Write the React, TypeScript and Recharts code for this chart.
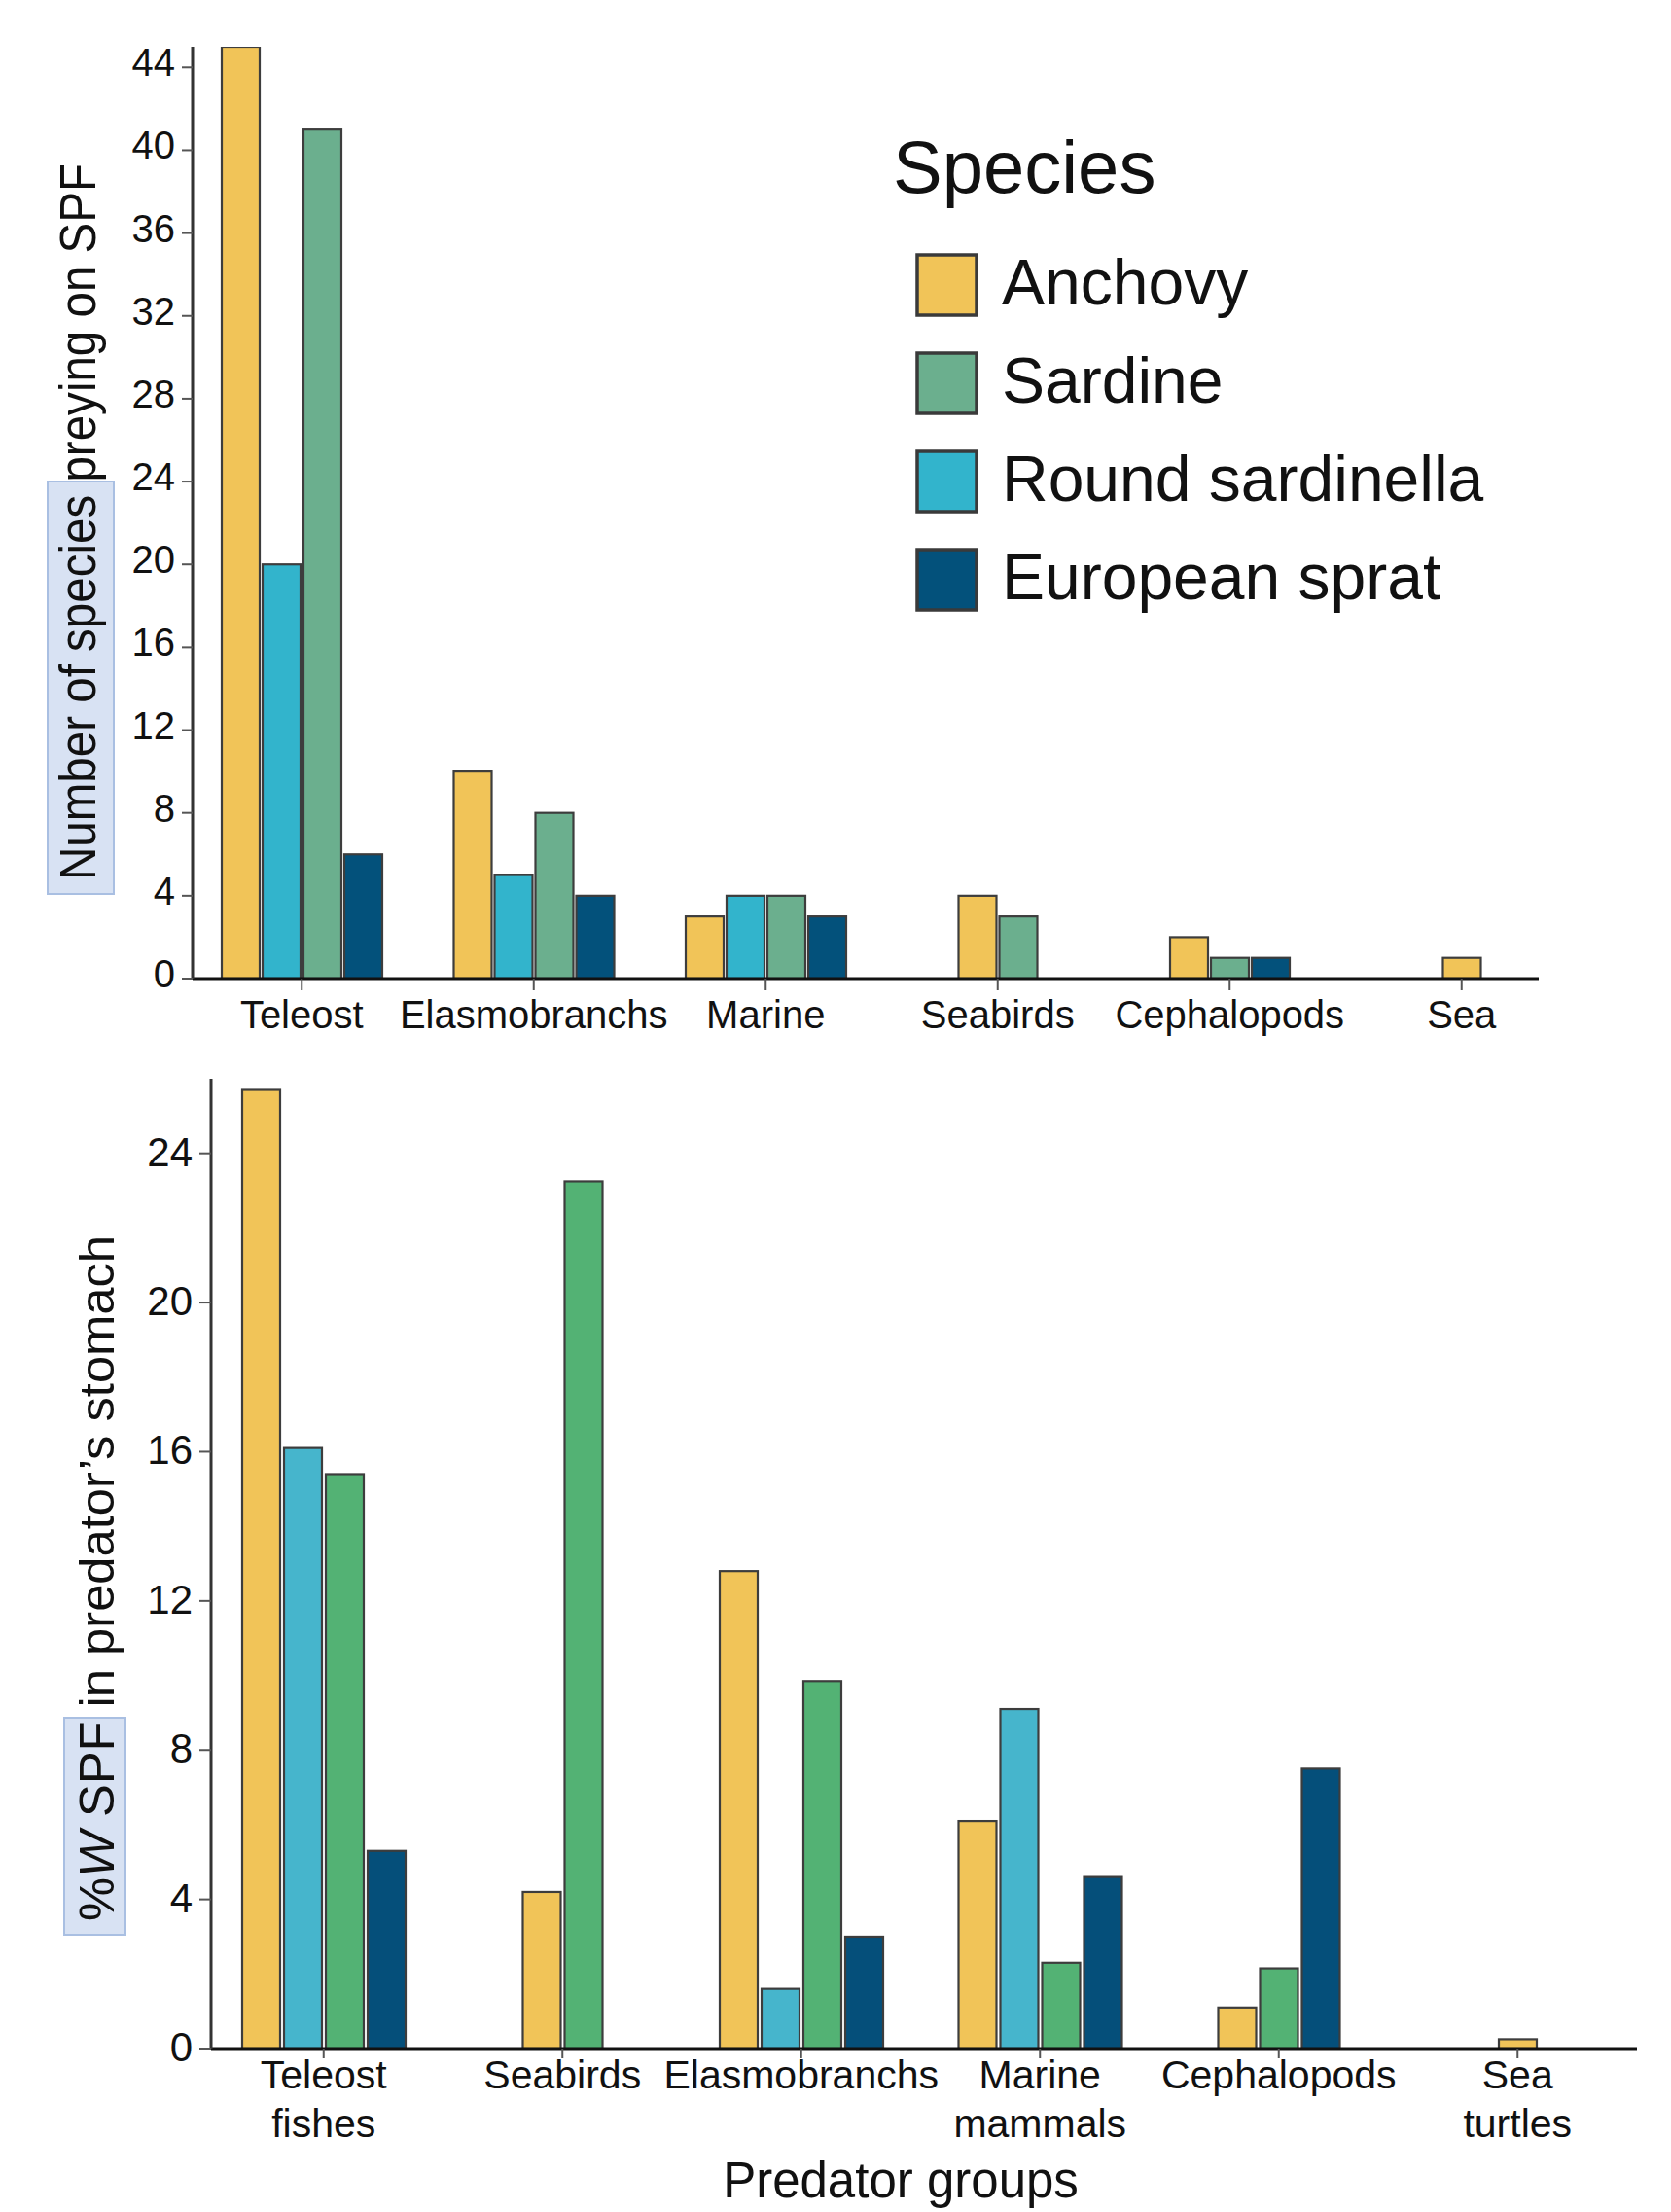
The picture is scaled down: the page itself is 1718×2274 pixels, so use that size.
import React from 'react';
import { BarChart, Bar, XAxis, YAxis, Customized } from 'recharts';

// ---------- data ----------
const SERIES_KEYS = ['anchovy', 'roundSardinella', 'sardine', 'sprat'];
const LEGEND_NAMES = ['Anchovy', 'Sardine', 'Round sardinella', 'European sprat'];
const LEGEND_KEYS = ['anchovy', 'sardine', 'roundSardinella', 'sprat'];

const TOP_CATEGORIES = ['Teleost', 'Elasmobranchs', 'Marine', 'Seabirds', 'Cephalopods', 'Sea'];
const TOP_ANCHOVY = [45, 10, 3, 4, 2, 1];
const TOP_ROUND = [20, 5, 4, null, null, null];
const TOP_SARDINE = [41, 8, 4, 3, 1, null];
const TOP_SPRAT = [6, 4, 3, null, 1, null];
const TOP_TICKS = [0, 4, 8, 12, 16, 20, 24, 28, 32, 36, 40, 44];

const BOTTOM_CATEGORIES = ['Teleost fishes', 'Seabirds', 'Elasmobranchs', 'Marine mammals', 'Cephalopods', 'Sea turtles'];
const BOTTOM_ANCHOVY = [25.7, 4.2, 12.8, 6.1, 1.1, 0.25];
const BOTTOM_ROUND = [16.1, null, 1.6, 9.1, null, null];
const BOTTOM_SARDINE = [15.4, 23.25, 9.85, 2.3, 2.15, null];
const BOTTOM_SPRAT = [5.3, null, 3.0, 4.6, 7.5, null];
const BOTTOM_TICKS = [0, 4, 8, 12, 16, 20, 24];

// ---------- styles ----------
const FONT = 'Liberation Sans, Arial, Helvetica, sans-serif';
const TOP_COLORS: Record<string, string> = {
  anchovy: '#f1c458',
  roundSardinella: '#32b4cc',
  sardine: '#6baf8e',
  sprat: '#03517b',
};
const BOTTOM_COLORS: Record<string, string> = {
  anchovy: '#f1c458',
  roundSardinella: '#46b5cc',
  sardine: '#53b274',
  sprat: '#054f7a',
};
const BAR_STROKE = '#3d3d3d';

const topData = TOP_CATEGORIES.map((c, i) => ({
  category: c,
  anchovy: TOP_ANCHOVY[i],
  roundSardinella: TOP_ROUND[i],
  sardine: TOP_SARDINE[i],
  sprat: TOP_SPRAT[i],
}));

const bottomData = BOTTOM_CATEGORIES.map((c, i) => ({
  category: c,
  anchovy: BOTTOM_ANCHOVY[i],
  roundSardinella: BOTTOM_ROUND[i],
  sardine: BOTTOM_SARDINE[i],
  sprat: BOTTOM_SPRAT[i],
}));

// shape that re-centres the bars present in each category
const makeShape = (si: number, fill: string, gap: number) => (props: any) => {
  const { x, y, width, height, payload } = props;
  const key = SERIES_KEYS[si];
  if (!payload || payload[key] == null) return <g />;
  const present = SERIES_KEYS.map((k, i) => (payload[k] != null ? i : -1)).filter((i) => i >= 0);
  const rank = present.indexOf(si);
  const pitch = width + gap;
  const dx = (rank - (present.length - 1) / 2 - (si - (SERIES_KEYS.length - 1) / 2)) * pitch;
  return (
    <rect
      x={x + dx}
      y={y}
      width={width}
      height={Math.max(height, 0)}
      fill={fill}
      stroke={BAR_STROKE}
      strokeWidth={2.2}
    />
  );
};

const TopXTick = (props: any) => {
  const { x, y, payload } = props;
  return (
    <text x={x} y={y + 39} textAnchor="middle" fontSize={40} fontFamily={FONT} fill="#111">
      {payload.value}
    </text>
  );
};

const BottomXTick = (props: any) => {
  const { x, y, payload } = props;
  const lines = String(payload.value).split(' ');
  return (
    <text textAnchor="middle" fontSize={41} fontFamily={FONT} fill="#111">
      {lines.map((l, i) => (
        <tspan key={i} x={x} y={y + 31 + i * 50}>
          {l}
        </tspan>
      ))}
    </text>
  );
};

const YTick = (fs: number, dy: number) => (props: any) => {
  const { x, y, payload } = props;
  return (
    <text x={x} y={y + dy} textAnchor="end" fontSize={fs} fontFamily={FONT} fill="#111">
      {payload.value}
    </text>
  );
};

const TopDecor = () => (
  <g>
    <rect x={49} y={495} width={68} height={424} fill="#d8e2f3" stroke="#a9bfe2" strokeWidth={2} />
    <text
      transform="translate(98,905) rotate(-90)"
      fontSize={51}
      fontFamily={FONT}
      textLength={737}
      lengthAdjust="spacingAndGlyphs"
      fill="#111"
    >
      Number of species preying on SPF
    </text>
    <text x={918} y={198} fontSize={76} fontFamily={FONT} fill="#111">
      Species
    </text>
    {LEGEND_NAMES.map((name, i) => {
      const cy = 293 + i * 101;
      return (
        <g key={name}>
          <rect
            x={943}
            y={cy - 31}
            width={61}
            height={62}
            fill={TOP_COLORS[LEGEND_KEYS[i]]}
            stroke="#3a3a3a"
            strokeWidth={3.5}
          />
          <text x={1030} y={cy + 20} fontSize={66} fontFamily={FONT} fill="#111">
            {name}
          </text>
        </g>
      );
    })}
  </g>
);

const BottomDecor = () => (
  <g>
    <rect x={66} y={686} width={63} height={223} fill="#d8e2f3" stroke="#a9bfe2" strokeWidth={2} />
    <text
      transform="translate(117,895) rotate(-90)"
      fontSize={50}
      fontFamily={FONT}
      textLength={705}
      lengthAdjust="spacingAndGlyphs"
      fill="#111"
    >
      %<tspan fontStyle="italic">W</tspan> SPF in predator’s stomach
    </text>
    <text x={926} y={1179} textAnchor="middle" fontSize={51} fontFamily={FONT} fill="#111">
      Predator groups
    </text>
  </g>
);

export default function App() {
  return (
    <div
      style={{
        position: 'absolute',
        left: 0,
        top: 0,
        width: 1718,
        height: 2274,
        background: '#ffffff',
        overflow: 'hidden',
      }}
    >
      <div style={{ position: 'absolute', left: 0, top: 0 }}>
        <BarChart
          width={1718}
          height={1110}
          data={topData}
          margin={{ top: 48, right: 136, left: 0, bottom: 0 }}
          barSize={39}
          barGap={3}
        >
          <XAxis
            dataKey="category"
            height={104}
            padding={{ left: -7, right: -40 }}
            axisLine={{ stroke: '#111', strokeWidth: 3 }}
            tickLine={{ stroke: '#555', strokeWidth: 2 }}
            tickSize={12}
            tickMargin={0}
            tick={<TopXTick />}
            interval={0}
          />
          <YAxis
            width={198}
            domain={[0, 45]}
            ticks={TOP_TICKS}
            allowDataOverflow
            axisLine={{ stroke: '#333', strokeWidth: 3 }}
            tickLine={{ stroke: '#555', strokeWidth: 2 }}
            tickSize={11}
            tickMargin={7}
            tick={YTick(40, 9)}
            interval={0}
          />
          {SERIES_KEYS.map((k, si) => (
            <Bar
              key={k}
              dataKey={k}
              fill={TOP_COLORS[k]}
              isAnimationActive={false}
              shape={makeShape(si, TOP_COLORS[k], 3)}
            />
          ))}
          <Customized component={TopDecor} />
        </BarChart>
      </div>
      <div style={{ position: 'absolute', left: 0, top: 1080 }}>
        <BarChart
          width={1718}
          height={1194}
          data={bottomData}
          margin={{ top: 29, right: 35, left: 0, bottom: 0 }}
          barSize={39}
          barGap={4}
        >
          <XAxis
            dataKey="category"
            height={168}
            padding={{ left: -7, right: 0 }}
            axisLine={{ stroke: '#111', strokeWidth: 3 }}
            tickLine={{ stroke: '#555', strokeWidth: 2 }}
            tickSize={10}
            tickMargin={0}
            tick={<BottomXTick />}
            interval={0}
          />
          <YAxis
            width={217}
            domain={[0, 26]}
            ticks={BOTTOM_TICKS}
            allowDataOverflow
            axisLine={{ stroke: '#333', strokeWidth: 3 }}
            tickLine={{ stroke: '#555', strokeWidth: 2 }}
            tickSize={12}
            tickMargin={7}
            tick={YTick(42, 13)}
            interval={0}
          />
          {SERIES_KEYS.map((k, si) => (
            <Bar
              key={k}
              dataKey={k}
              fill={BOTTOM_COLORS[k]}
              isAnimationActive={false}
              shape={makeShape(si, BOTTOM_COLORS[k], 4)}
            />
          ))}
          <Customized component={BottomDecor} />
        </BarChart>
      </div>
    </div>
  );
}
